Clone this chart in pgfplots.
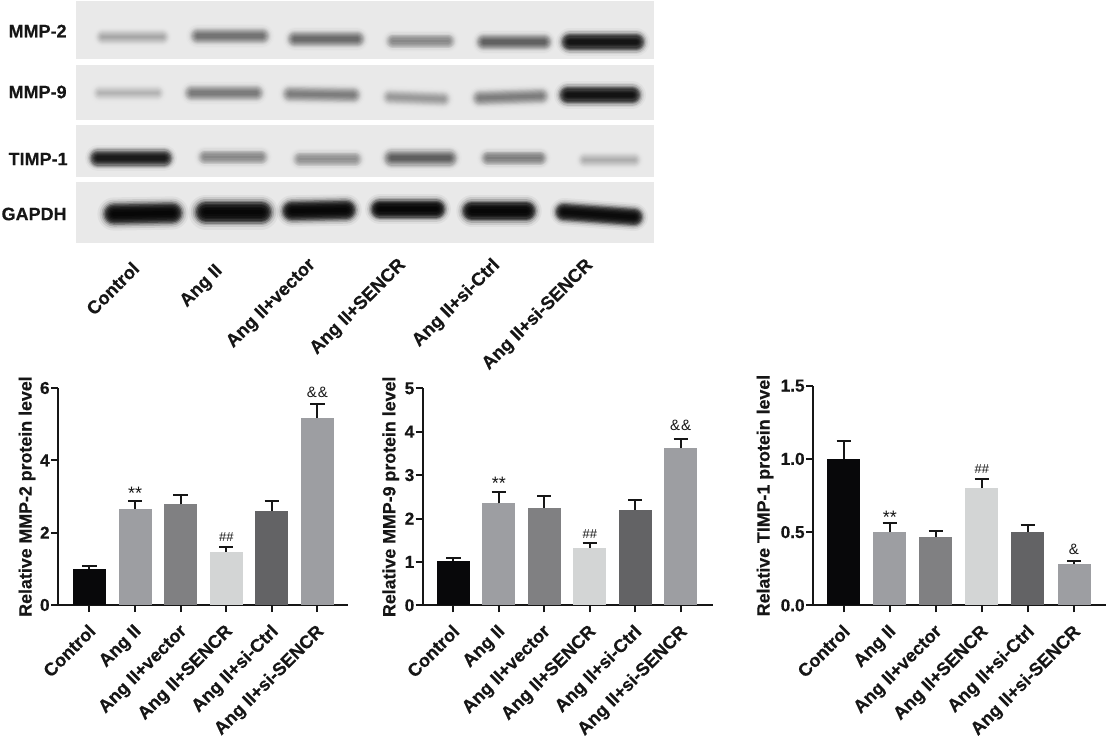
\documentclass[border=0pt]{standalone}
\usepackage{fontspec}
\setmainfont[BoldFeatures={FakeBold=0.5}]{Liberation Sans}
\usepackage{pgfplots}
\pgfplotsset{compat=1.18}

% bar greys, left to right
\definecolor{c0}{HTML}{08080A}
\definecolor{c1}{HTML}{9D9EA2}
\definecolor{c2}{HTML}{808082}
\definecolor{c3}{HTML}{D3D5D5}
\definecolor{c4}{HTML}{636365}
\definecolor{c5}{HTML}{9D9EA2}
\definecolor{blotbg}{HTML}{E9E9E9}
\definecolor{ink}{HTML}{161616}

\newcommand{\lab}[1]{\fontsize{#1}{#1}\bfseries\selectfont}
\newcommand{\xlabfont}{\fontsize{9.1}{9.1}\selectfont\bfseries}
\newcommand{\ylabfont}{\fontsize{8.9}{8.9}\selectfont\bfseries}

% x, height, error, colour
\newcommand{\barr}[4]{%
  \addplot[ybar, bar width=16.5pt, bar shift=0pt, draw=none, fill=#4,
    error bars/.cd, y dir=plus, y explicit,
    error bar style={ink, line width=1pt},
    error mark options={ink, rotate=90, mark size=3.6pt, line width=1pt}]
    coordinates {(#1,#2) +- (0,#3)};}

% soft blot band: x0 y0 x1 y1 layer opacity, thickness in px
\newcommand{\layer}[6]{\addplot[black, draw opacity=#5, line cap=round, line width=#6*0.5pt]
    coordinates {(#1,#2) (#3,#4)};}
\newcommand{\band}[6]{%
  \layer{#1}{#2}{#3}{#4}{#5*0.12}{#6*1.75}
  \layer{#1}{#2}{#3}{#4}{#5*0.25}{#6*1.52}
  \layer{#1}{#2}{#3}{#4}{#5*0.45}{#6*1.32}
  \layer{#1}{#2}{#3}{#4}{#5*0.70}{#6*1.15}
  \layer{#1}{#2}{#3}{#4}{#5}{#6*1.00}
  \layer{#1}{#2}{#3}{#4}{#5}{#6*0.85}
  \layer{#1}{#2}{#3}{#4}{#5}{#6*0.70}
  \layer{#1}{#2}{#3}{#4}{#5}{#6*0.55}
  \layer{#1}{#2}{#3}{#4}{#5}{#6*0.40}
  \layer{#1}{#2}{#3}{#4}{#5}{#6*0.22}}
\newcommand{\rowbg}[2]{\addplot[draw=none, fill=blotbg]
    coordinates {(76,#1) (654,#1) (654,#2) (76,#2)} --cycle;}

\tikzset{sig/.style={font=\fontsize{6.5}{6.5}\selectfont, text=ink, inner sep=0pt}}
\pgfplotsset{
  panel/.style={
    scale only axis, axis lines=left, axis line style={-, ink, line width=1pt},
    tick style={ink, line width=1pt}, major tick length=3.5pt, tick align=outside,
    ymin=0, xtick={0,...,5},
    xticklabels={Control, Ang II, Ang II+vector, Ang II+SENCR, Ang II+si-Ctrl, Ang II+si-SENCR},
    x tick label style={font=\xlabfont, text=ink, rotate=45, anchor=north east, inner sep=0pt, xshift=-4.5pt, yshift=-3pt},
    y tick label style={font=\lab{8.6}, text=ink, inner sep=0.5pt},
    /pgf/number format/assume math mode=true,
    clip=false,
  },
}

\begin{document}
\begin{tikzpicture}
\path[use as bounding box] (0,0) rectangle (554pt,368pt);

% blot panel, drawn in reference pixel coordinates
\begin{axis}[at={(0pt,0pt)}, anchor=south west, scale only axis, width=554pt, height=368pt,
  xmin=0, xmax=1108, ymin=0, ymax=736, y dir=reverse, hide axis, clip=false]
\rowbg{1}{59}\rowbg{65}{120}\rowbg{125}{177}\rowbg{182}{243}
% MMP-2
\band{103}{37}{162}{37}{0.04}{12}
\band{198}{36}{262}{36}{0.085}{14}
\band{295}{39}{357}{39}{0.095}{14}
\band{393}{41}{448}{41}{0.065}{13}
\band{484}{42}{544}{42}{0.105}{14}
\band{570}{42}{636}{42}{0.27}{16}
% MMP-9
\band{100}{93}{157}{93}{0.03}{12}
\band{192}{93}{256}{93}{0.08}{14}
\band{290}{94}{353}{95}{0.075}{14}
\band{390}{97}{443}{99}{0.05}{13}
\band{480}{98}{541}{96}{0.075}{14}
\band{568}{95}{632}{95}{0.28}{16}
% TIMP-1
\band{98}{158}{164}{158}{0.25}{15}
\band{205}{157}{261}{157}{0.065}{13}
\band{300}{159}{355}{159}{0.06}{13}
\band{392}{158}{449}{158}{0.11}{15}
\band{488}{158}{540}{158}{0.075}{13}
\band{585}{160}{634}{160}{0.035}{12}
% GAPDH
\band{114}{214}{172}{213}{0.36}{19}
\band{206}{212}{261}{212}{0.36}{20}
\band{292}{211}{346}{210}{0.36}{18}
\band{380}{209}{436}{209}{0.36}{17}
\band{472}{211}{526}{211}{0.36}{18}
\band{564}{212}{634}{217}{0.33}{16}
% row names
\node[font=\lab{9}, text=ink, anchor=east, inner sep=0pt] at (axis cs:67,31) {MMP-2};
\node[font=\lab{9}, text=ink, anchor=east, inner sep=0pt] at (axis cs:67,92) {MMP-9};
\node[font=\lab{9}, text=ink, anchor=east, inner sep=0pt] at (axis cs:68,159) {TIMP-1};
\node[font=\lab{9}, text=ink, anchor=east, inner sep=0pt] at (axis cs:67,214) {GAPDH};
% lane names
\foreach \x/\y/\t in {131/260/Control, 214/262/Ang II, 307/256/Ang II+vector, 397/256/Ang II+SENCR, 491/256/Ang II+si-Ctrl, 584/256/Ang II+si-SENCR}{
  \edef\tmp{\noexpand\node[font=\noexpand\lab{9.2}, text=ink, rotate=45, anchor=north east, inner sep=0pt] at (axis cs:\x,\y) {\t};}\tmp}
\end{axis}

% MMP-2
\begin{axis}[panel, at={(29pt,65.5pt)}, anchor=south west, width=145pt, height=108.5pt,
  xmin=-0.69, xmax=5.67, ymax=6, ytick={0,2,4,6},
  ylabel={Relative MMP-2 protein level},
  every axis y label/.style={at={(axis description cs:-0.107,0.5)}, rotate=90, anchor=center, font=\ylabfont, text=ink}]
\barr{0}{1.00}{0.08}{c0}
\barr{1}{2.65}{0.23}{c1}
\barr{2}{2.78}{0.27}{c2}
\barr{3}{1.47}{0.13}{c3}
\barr{4}{2.60}{0.27}{c4}
\barr{5}{5.17}{0.40}{c5}
\node[sig, font=\fontsize{9}{9}\selectfont] at (axis cs:1,3.10) {**};
\node[sig] at (axis cs:3,1.89) {\#\#};
\node[sig, font=\fontsize{7.5}{7.5}\selectfont] at (axis cs:5,5.89) {\&\hspace{0.5pt}\&};
\end{axis}

% MMP-9
\begin{axis}[panel, at={(211.35pt,65.35pt)}, anchor=south west, width=145.15pt, height=108.5pt,
  xmin=-0.673, xmax=5.71, ymax=5, ytick={0,1,2,3,4,5},
  ylabel={Relative MMP-9 protein level},
  every axis y label/.style={at={(axis description cs:-0.11,0.5)}, rotate=90, anchor=center, font=\ylabfont, text=ink}]
\barr{0}{1.02}{0.06}{c0}
\barr{1}{2.35}{0.25}{c1}
\barr{2}{2.25}{0.28}{c2}
\barr{3}{1.33}{0.10}{c3}
\barr{4}{2.20}{0.23}{c4}
\barr{5}{3.62}{0.21}{c5}
\node[sig, font=\fontsize{9}{9}\selectfont] at (axis cs:1,2.80) {**};
\node[sig] at (axis cs:3,1.64) {\#\#};
\node[sig, font=\fontsize{7.5}{7.5}\selectfont] at (axis cs:5,4.15) {\&\hspace{0.5pt}\&};
\end{axis}

% TIMP-1
\begin{axis}[panel, at={(406.5pt,65.35pt)}, anchor=south west, width=146.5pt, height=109.8pt,
  xmin=-0.667, xmax=5.695, ymax=1.5, ytick={0,0.5,1,1.5},
  yticklabel style={/pgf/number format/fixed, /pgf/number format/fixed zerofill, /pgf/number format/precision=1},
  ylabel={Relative TIMP-1 protein level},
  every axis y label/.style={at={(axis description cs:-0.164,0.5)}, rotate=90, anchor=center, font=\ylabfont, text=ink}]
\barr{0}{1.00}{0.12}{c0}
\barr{1}{0.50}{0.06}{c1}
\barr{2}{0.47}{0.04}{c2}
\barr{3}{0.80}{0.06}{c3}
\barr{4}{0.50}{0.05}{c4}
\barr{5}{0.28}{0.025}{c5}
\node[sig, font=\fontsize{9}{9}\selectfont] at (axis cs:1,0.60) {**};
\node[sig] at (axis cs:3,0.93) {\#\#};
\node[sig, font=\fontsize{7.5}{7.5}\selectfont] at (axis cs:5,0.385) {\&};
\end{axis}
\end{tikzpicture}
\end{document}
